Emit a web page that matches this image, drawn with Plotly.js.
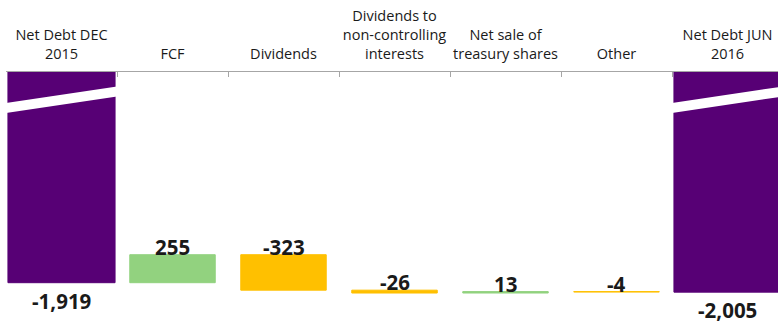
<!DOCTYPE html>
<html>
<head>
<meta charset="utf-8">
<script src="https://cdn.plot.ly/plotly-3.0.1.min.js"></script>
<style>
html,body{margin:0;padding:0;background:#fff;}
#chart{width:778px;height:323px;}
</style>
</head>
<body>
<div id="chart"></div>
<script>
// ---- data ----
const categories = ['Net Debt DEC<br>2015', 'FCF', 'Dividends', 'Dividends to<br>non-controlling<br>interests', 'Net sale of<br>treasury shares', 'Other', 'Net Debt JUN<br>2016'];
const values = [-1919, 255, -323, -26, 13, -4, -2005];
const measures = ['total', 'relative', 'relative', 'relative', 'relative', 'relative', 'total'];
const valueLabels = ['-1,919', '255', '-323', '-26', '13', '-4', '-2,005'];

// ---- styles ----
const PURPLE = '#570075', GREEN = '#92D27F', YELLOW = '#FFC000';
const TEXT = '#1a1a1a';
const FONT = 'Open Sans, sans-serif';

// build floating bars from the waterfall steps
const bases = [], heights = [], colors = [], widths = [];
const annotations = [];
let running = 0;
values.forEach((v, i) => {
  if (measures[i] === 'total') {
    bases.push(0); heights.push(v); colors.push(PURPLE); widths.push(0.965);
    running = v;
    annotations.push({x: categories[i], y: v, xref: 'x', yref: 'y', text: valueLabels[i],
      showarrow: false, yanchor: 'top', yshift: -2,
      font: {family: FONT, size: 20.5, color: TEXT, weight: 'bold'}});
  } else {
    const start = running, end = running + v;
    const lo = Math.min(start, end), hi = Math.max(start, end);
    bases.push(lo); heights.push(Math.abs(v));
    colors.push(v >= 0 ? GREEN : YELLOW); widths.push(0.77);
    running = end;
    annotations.push({x: categories[i], y: hi, xref: 'x', yref: 'y', text: valueLabels[i],
      showarrow: false, yanchor: 'bottom', yshift: -8,
      font: {family: FONT, size: 20.5, color: TEXT, weight: 'bold'}});
  }
});

const trace = {
  type: 'bar',
  x: categories,
  y: heights,
  base: bases,
  width: widths,
  marker: {color: colors, line: {color: colors, width: 1}},
  cliponaxis: false,
  hoverinfo: 'skip'
};

// decorative "axis break" bands on the total bars
const shapes = [];
values.forEach((v, i) => {
  if (measures[i] !== 'total') return;
  const x0 = i - 0.5, x1 = i + 0.5;
  shapes.push({
    type: 'path', xref: 'x', yref: 'y',
    path: `M ${x0} -282 L ${x1} -131 L ${x1} -222 L ${x0} -373 Z`,
    fillcolor: '#ffffff', line: {width: 0}, layer: 'above'
  });
});

const layout = {
  width: 778, height: 323,
  margin: {l: 6, r: 0, t: 72, b: 0, pad: 0},
  paper_bgcolor: '#ffffff', plot_bgcolor: '#ffffff',
  showlegend: false,
  bargap: 0,
  font: {family: FONT, color: TEXT},
  xaxis: {
    type: 'category',
    side: 'top',
    tickangle: 0,
    ticklabelstandoff: 6,
    range: [-0.5, -0.5 + 772 / 111],
    showline: true, linecolor: '#a6a6a6', linewidth: 1,
    ticks: 'inside', tickson: 'boundaries', ticklen: 5, tickcolor: '#a6a6a6',
    tickfont: {family: FONT, size: 14.5, color: TEXT},
    showgrid: false, zeroline: false, fixedrange: true
  },
  yaxis: {
    range: [-2286, 0],
    visible: false, showgrid: false, zeroline: false, fixedrange: true
  },
  shapes: shapes,
  annotations: annotations
};

Plotly.newPlot('chart', [trace], layout, {displayModeBar: false, staticPlot: true});
</script>
</body>
</html>
